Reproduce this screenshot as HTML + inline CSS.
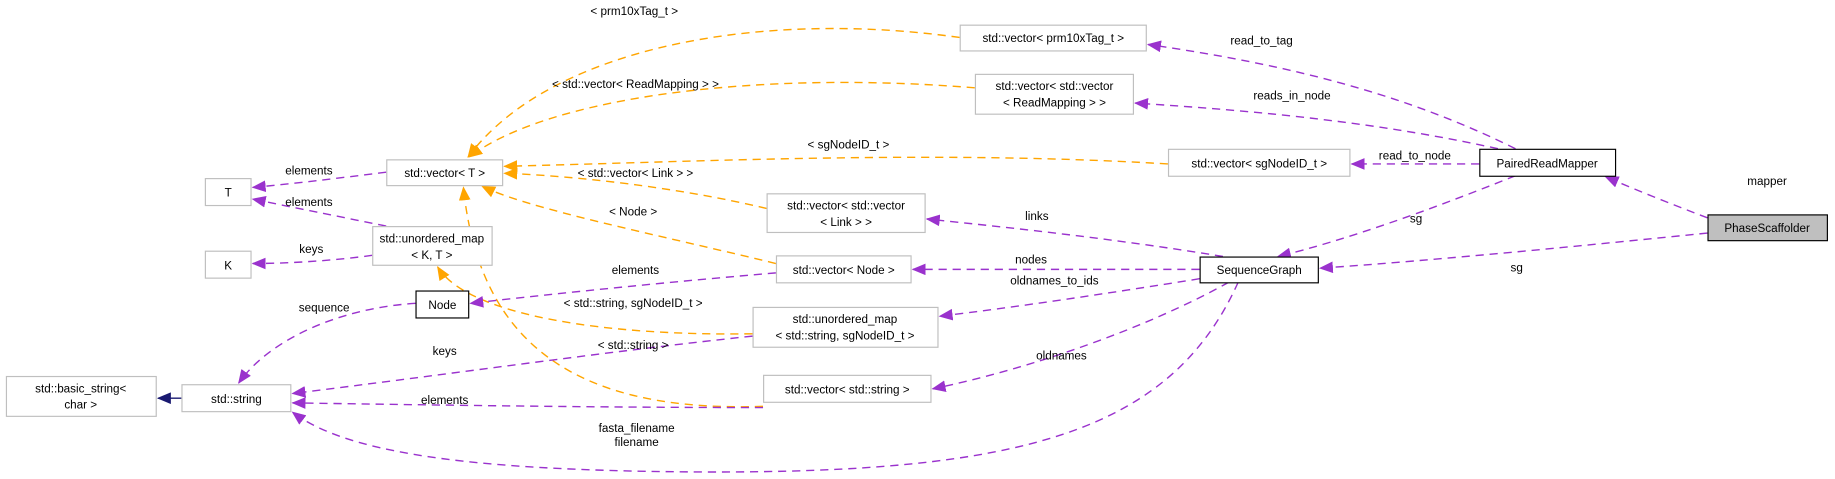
<!DOCTYPE html>
<html><head><meta charset="utf-8"><style>
html,body{margin:0;padding:0;background:#fff;}
svg{display:block;font-family:"Liberation Sans",Arial,sans-serif;font-size:10px;}
</style></head><body>
<svg width="1835" height="479" viewBox="0 0 1568 409" preserveAspectRatio="none" xmlns="http://www.w3.org/2000/svg">
<defs>
<marker id="p" markerWidth="12" markerHeight="10" refX="11" refY="5" orient="auto" markerUnits="userSpaceOnUse"><path d="M0,0 L12,5 L0,10 z" fill="#9a32cd"/></marker>
<marker id="o" markerWidth="12" markerHeight="10" refX="11" refY="5" orient="auto" markerUnits="userSpaceOnUse"><path d="M0,0 L12,5 L0,10 z" fill="#ffa500"/></marker>
<marker id="n" markerWidth="12" markerHeight="10" refX="11" refY="5" orient="auto" markerUnits="userSpaceOnUse"><path d="M0,0 L12,5 L0,10 z" fill="#191970"/></marker>
</defs>
<g fill="none" stroke="#ffa500" stroke-dasharray="7,5" stroke-width="1.2">
<path d="M820,32 C650,8 470,40 400,134" marker-end="url(#o)"/>
<path d="M833,75 C650,60 470,82 401,134" marker-end="url(#o)"/>
<path d="M998,140 C800,128 600,138 431,142" marker-end="url(#o)"/>
<path d="M655,178 C580,160 490,150 431,148" marker-end="url(#o)"/>
<path d="M663,225 C560,200 450,178 412,159" marker-end="url(#o)"/>
<path d="M643,285 C520,287 400,270 374,228" marker-end="url(#o)"/>
<path d="M652,347 C500,352 410,300 396,160" marker-end="url(#o)"/>
</g>
<g fill="none" stroke="#9a32cd" stroke-dasharray="7,5" stroke-width="1.2">
<path d="M1295,127 C1200,80 1100,55 981,38" marker-end="url(#p)"/>
<path d="M1280,127 C1180,105 1080,95 970,88" marker-end="url(#p)"/>
<path d="M1264,140 L1155,140" marker-end="url(#p)"/>
<path d="M1295,150 C1220,180 1150,205 1092,219" marker-end="url(#p)"/>
<path d="M1459,186 C1430,175 1400,163 1372,151" marker-end="url(#p)"/>
<path d="M1459,199 C1350,210 1230,222 1128,229" marker-end="url(#p)"/>
<path d="M1045,219 C960,205 870,195 792,187" marker-end="url(#p)"/>
<path d="M1025,230 L780,230" marker-end="url(#p)"/>
<path d="M1025,238 C950,250 870,262 803,270" marker-end="url(#p)"/>
<path d="M1050,241 C980,280 880,315 797,332" marker-end="url(#p)"/>
<path d="M1058,241 C1000,370 870,404 600,403 C420,402 300,390 250,352" marker-end="url(#p)"/>
<path d="M330,147 C290,152 250,157 216,160" marker-end="url(#p)"/>
<path d="M330,193 C290,185 250,177 216,170" marker-end="url(#p)"/>
<path d="M318,218 C290,222 250,225 216,225" marker-end="url(#p)"/>
<path d="M355,259 C290,263 230,290 204,327" marker-end="url(#p)"/>
<path d="M663,233 C580,240 480,250 402,259" marker-end="url(#p)"/>
<path d="M643,287 C520,300 380,320 250,336" marker-end="url(#p)"/>
<path d="M652,348 C520,348 380,346 250,344" marker-end="url(#p)"/>
</g>
<path d="M155,340 L135,340" stroke="#191970" stroke-width="1.2" marker-end="url(#n)"/>
<g stroke="#bfbfbf" fill="#fff">
<rect x="820.5" y="21.5" width="159" height="22"/>
<rect x="833.5" y="63.5" width="135" height="34"/>
<rect x="998.5" y="127.5" width="155" height="23"/>
<rect x="330.5" y="136.5" width="99" height="22"/>
<rect x="655.5" y="165.5" width="135" height="33"/>
<rect x="663.5" y="218.5" width="115" height="23"/>
<rect x="643.5" y="262.5" width="158" height="34"/>
<rect x="652.5" y="320.5" width="143" height="23"/>
<rect x="175.5" y="152.5" width="39" height="23"/>
<rect x="175.5" y="214.5" width="39" height="23"/>
<rect x="318.5" y="193.5" width="102" height="33"/>
<rect x="155.5" y="328.5" width="93" height="23"/>
<rect x="5.5" y="321.5" width="128" height="34"/>
</g>
<g stroke="#000" fill="#fff">
<rect x="1264.5" y="127.5" width="116" height="23"/>
<rect x="1025.5" y="219.5" width="101" height="22"/>
<rect x="355.5" y="248.5" width="45" height="23"/>
<rect x="1459.5" y="183.5" width="102" height="22" fill="#bfbfbf"/>
</g>
<g fill="#000" text-anchor="middle">
<text x="900" y="36">std::vector&lt; prm10xTag_t &gt;</text>
<text x="901" y="77">std::vector&lt; std::vector</text><text x="901" y="91">&lt; ReadMapping &gt; &gt;</text>
<text x="1076" y="143">std::vector&lt; sgNodeID_t &gt;</text>
<text x="380" y="151">std::vector&lt; T &gt;</text>
<text x="723" y="179">std::vector&lt; std::vector</text><text x="723" y="193">&lt; Link &gt; &gt;</text>
<text x="721" y="234">std::vector&lt; Node &gt;</text>
<text x="722" y="276">std::unordered_map</text><text x="722" y="290">&lt; std::string, sgNodeID_t &gt;</text>
<text x="724" y="336">std::vector&lt; std::string &gt;</text>
<text x="195" y="168">T</text>
<text x="195" y="230">K</text>
<text x="369" y="207">std::unordered_map</text><text x="369" y="221">&lt; K, T &gt;</text>
<text x="202" y="344">std::string</text>
<text x="69" y="335">std::basic_string&lt;</text><text x="69" y="349">char &gt;</text>
<text x="1322" y="143">PairedReadMapper</text>
<text x="1076" y="234">SequenceGraph</text>
<text x="378" y="264">Node</text>
<text x="1510" y="198">PhaseScaffolder</text>
<text x="542" y="13">&lt; prm10xTag_t &gt;</text>
<text x="543" y="75">&lt; std::vector&lt; ReadMapping &gt; &gt;</text>
<text x="725" y="127">&lt; sgNodeID_t &gt;</text>
<text x="543" y="151">&lt; std::vector&lt; Link &gt; &gt;</text>
<text x="541" y="184">&lt; Node &gt;</text>
<text x="541" y="262">&lt; std::string, sgNodeID_t &gt;</text>
<text x="541" y="298">&lt; std::string &gt;</text>
<text x="1078" y="38">read_to_tag</text>
<text x="1104" y="85">reads_in_node</text>
<text x="1209" y="136">read_to_node</text>
<text x="1210" y="190">sg</text>
<text x="1510" y="158">mapper</text>
<text x="1296" y="232">sg</text>
<text x="886" y="188">links</text>
<text x="881" y="225">nodes</text>
<text x="901" y="243">oldnames_to_ids</text>
<text x="907" y="307">oldnames</text>
<text x="544" y="369">fasta_filename</text>
<text x="544" y="381">filename</text>
<text x="264" y="149">elements</text>
<text x="264" y="176">elements</text>
<text x="266" y="216">keys</text>
<text x="277" y="266">sequence</text>
<text x="543" y="234">elements</text>
<text x="380" y="303">keys</text>
<text x="380" y="345">elements</text>
</g>
</svg>
</body></html>
